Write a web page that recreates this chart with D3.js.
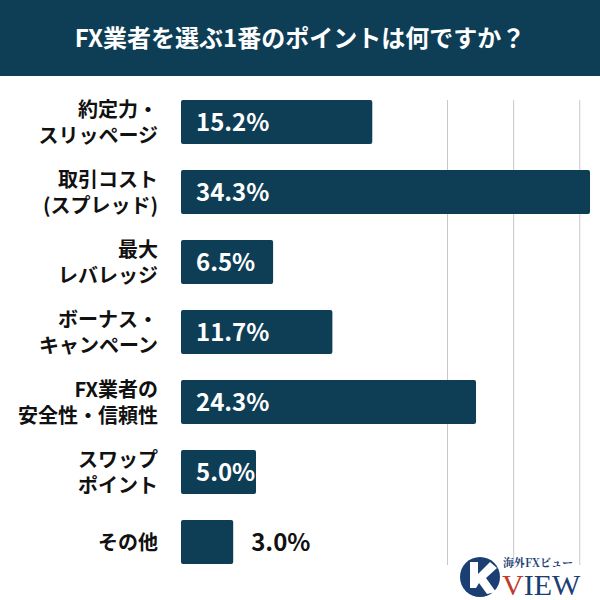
<!DOCTYPE html>
<html><head><meta charset="utf-8">
<script src="https://cdn.jsdelivr.net/npm/d3@7"></script>
<style>body{margin:0;background:#fff}svg{display:block;font-family:"Noto Sans CJK JP","Noto Sans",sans-serif}</style>
</head><body>
<script>
const categories = [["約定力・","スリッページ"],["取引コスト","(スプレッド)"],["最大","レバレッジ"],["ボーナス・","キャンペーン"],["FX業者の","安全性・信頼性"],["スワップ","ポイント"],["その他"]];
const values = [15.2, 34.3, 6.5, 11.7, 24.3, 5.0, 3.0];
const gridValues = [21.8, 27.6, 33.4];
const title = "FX業者を選ぶ1番のポイントは何ですか？";

const navy = "#0d3e56";
const svg = d3.select("body").append("svg").attr("width", 600).attr("height", 600);

svg.append("rect").attr("width", 600).attr("height", 76).attr("fill", navy);
svg.append("text").attr("x", 300).attr("y", 47).attr("text-anchor", "middle")
  .attr("fill", "#fff").attr("font-size", 24).attr("font-weight", 700).text(title);

const x = d3.scaleLinear().domain([0, 35]).range([199, 598]);
const x0 = 181;
const y = d3.scaleBand().domain(d3.range(values.length)).range([87, 577]).paddingInner(0.37).paddingOuter(0.185);

svg.selectAll(".grid").data(gridValues).enter().append("line")
  .attr("x1", d => x(d)).attr("x2", d => x(d)).attr("y1", 100).attr("y2", 565)
  .attr("stroke", "#c8c8c8").attr("stroke-width", 1);

svg.selectAll(".bar").data(values).enter().append("rect")
  .attr("x", x0).attr("y", (d, i) => y(i)).attr("width", d => x(d) - x0)
  .attr("height", y.bandwidth()).attr("rx", 2).attr("fill", navy);

const inside = d => x(d) - x0 > 70;
svg.selectAll(".val").data(values).enter().append("text")
  .attr("x", d => inside(d) ? 196 : x(d) + 18)
  .attr("y", (d, i) => y(i) + y.bandwidth() / 2 + 9)
  .attr("fill", d => inside(d) ? "#fff" : "#111")
  .attr("font-size", 24).attr("font-weight", 700)
  .text(d => d.toFixed(1) + "%");

categories.forEach((lines, i) => {
  const cy = y(i) + y.bandwidth() / 2;
  const t = svg.append("text").attr("text-anchor", "end").attr("x", 158)
    .attr("font-size", 20).attr("font-weight", 700).attr("fill", "#111");
  lines.forEach((l, j) => {
    t.append("tspan").attr("x", 158).attr("y", cy + 8 + (j - (lines.length - 1) / 2) * 26).text(l);
  });
});

// logo
const g = svg.append("g");
g.append("circle").attr("cx", 480).attr("cy", 577).attr("r", 20).attr("fill", "#1c3f73");
g.append("path").attr("d", "M470,562 L478,562 L478,574 L490,562 L497,568 L486,578 L496,592 L487,594 L479,583 L476,588 L470,588 Z").attr("fill", "#fff");
g.append("text").attr("x", 503).attr("y", 567).attr("font-size", 11).attr("font-weight", 700)
  .attr("fill", "#1c3f73").attr("font-family", "Noto Serif CJK JP,serif").text("海外FXビュー");
g.append("text").attr("x", 502).attr("y", 595).attr("font-size", 30)
  .attr("font-family", "Liberation Serif,serif").attr("fill", "#1c3f73")
  .html('<tspan fill="#c0392b">V</tspan>IEW');
</script>
</body></html>
